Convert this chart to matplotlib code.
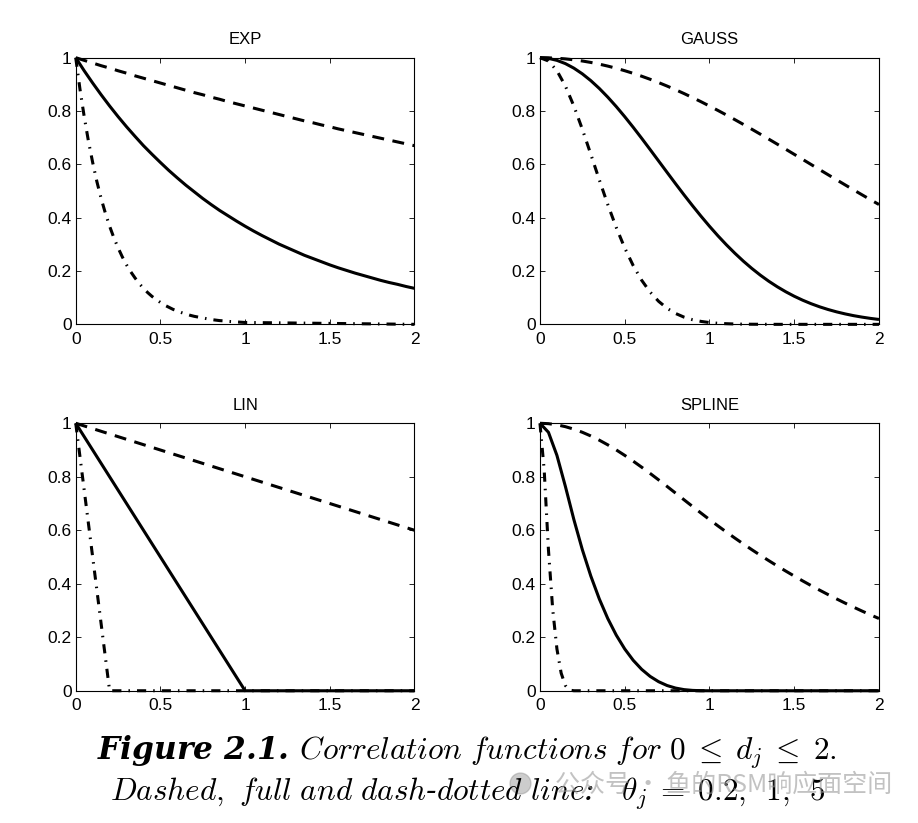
import matplotlib
matplotlib.use("Agg")
import matplotlib.pyplot as plt
from matplotlib.ticker import FixedLocator, FixedFormatter
from matplotlib.lines import Line2D

# ---------------- data ----------------
d = [0.00, 0.05, 0.10, 0.15, 0.20, 0.25, 0.30, 0.35, 0.40, 0.45,
     0.50, 0.55, 0.60, 0.65, 0.70, 0.75, 0.80, 0.85, 0.90, 0.95,
     1.00, 1.05, 1.10, 1.15, 1.20, 1.25, 1.30, 1.35, 1.40, 1.45,
     1.50, 1.55, 1.60, 1.65, 1.70, 1.75, 1.80, 1.85, 1.90, 1.95, 2.00]

d_fine = [0.000, 0.025, 0.050, 0.075, 0.100, 0.125, 0.150, 0.175, 0.200, 0.225,
          0.250, 0.275, 0.300, 0.325, 0.350, 0.375, 0.400, 0.425, 0.450, 0.475,
          0.500, 0.525, 0.550, 0.575, 0.600, 0.625, 0.650, 0.675, 0.700, 0.725,
          0.750, 0.775, 0.800, 0.825, 0.850, 0.875, 0.900, 0.925, 0.950, 0.975,
          1.000, 2.000]

# EXP
exp_02 = [1.000, 0.990, 0.980, 0.970, 0.961, 0.951, 0.942, 0.932, 0.923, 0.914,
          0.905, 0.896, 0.887, 0.878, 0.869, 0.861, 0.852, 0.844, 0.835, 0.827,
          0.819, 0.811, 0.803, 0.795, 0.787, 0.779, 0.771, 0.763, 0.756, 0.748,
          0.741, 0.733, 0.726, 0.719, 0.712, 0.705, 0.698, 0.691, 0.684, 0.677, 0.670]
exp_1 = [1.000, 0.951, 0.905, 0.861, 0.819, 0.779, 0.741, 0.705, 0.670, 0.638,
         0.607, 0.577, 0.549, 0.522, 0.497, 0.472, 0.449, 0.427, 0.407, 0.387,
         0.368, 0.350, 0.333, 0.317, 0.301, 0.287, 0.273, 0.259, 0.247, 0.235,
         0.223, 0.212, 0.202, 0.192, 0.183, 0.174, 0.165, 0.157, 0.150, 0.142, 0.135]
exp_5 = [1.000, 0.882, 0.779, 0.687, 0.607, 0.535, 0.472, 0.417, 0.368, 0.325,
         0.287, 0.253, 0.223, 0.197, 0.174, 0.153, 0.135, 0.119, 0.105, 0.093,
         0.082, 0.072, 0.064, 0.056, 0.050, 0.044, 0.039, 0.034, 0.030, 0.027,
         0.024, 0.021, 0.018, 0.016, 0.014, 0.013, 0.011, 0.010, 0.009, 0.008,
         0.007, 0.000]

# GAUSS
gauss_02 = [1.000, 0.9995, 0.9980, 0.9955, 0.9920, 0.9876, 0.9822, 0.9758, 0.9685, 0.9603,
            0.9512, 0.9413, 0.9305, 0.9190, 0.9066, 0.8936, 0.8799, 0.8655, 0.8504, 0.8349,
            0.8187, 0.8021, 0.7851, 0.7676, 0.7498, 0.7316, 0.7132, 0.6945, 0.6757, 0.6567,
            0.6376, 0.6185, 0.5993, 0.5801, 0.5610, 0.5420, 0.5231, 0.5043, 0.4858, 0.4674, 0.4493]
gauss_1 = [1.000, 0.9975, 0.9900, 0.9778, 0.9608, 0.9394, 0.9139, 0.8847, 0.8521, 0.8167,
           0.7788, 0.7390, 0.6977, 0.6554, 0.6126, 0.5698, 0.5273, 0.4855, 0.4449, 0.4056,
           0.3679, 0.3320, 0.2982, 0.2665, 0.2369, 0.2096, 0.1845, 0.1616, 0.1409, 0.1222,
           0.1054, 0.0905, 0.0773, 0.0657, 0.0556, 0.0468, 0.0392, 0.0326, 0.0271, 0.0223, 0.0183]
gauss_5 = [1.000, 0.9876, 0.9512, 0.8936, 0.8187, 0.7316, 0.6376, 0.5420, 0.4493, 0.3633,
           0.2865, 0.2204, 0.1653, 0.1209, 0.0863, 0.0601, 0.0408, 0.0270, 0.0174, 0.0110,
           0.0067, 0.0040, 0.0024, 0.0013, 0.0007, 0.0004, 0.0002, 0.0001, 0.0, 0.0,
           0.0, 0.0, 0.0, 0.0, 0.0, 0.0, 0.0, 0.0, 0.0, 0.0, 0.0]

# LIN
lin_02 = [1.00, 0.99, 0.98, 0.97, 0.96, 0.95, 0.94, 0.93, 0.92, 0.91,
          0.90, 0.89, 0.88, 0.87, 0.86, 0.85, 0.84, 0.83, 0.82, 0.81,
          0.80, 0.79, 0.78, 0.77, 0.76, 0.75, 0.74, 0.73, 0.72, 0.71,
          0.70, 0.69, 0.68, 0.67, 0.66, 0.65, 0.64, 0.63, 0.62, 0.61, 0.60]
lin_1 = [1.00, 0.95, 0.90, 0.85, 0.80, 0.75, 0.70, 0.65, 0.60, 0.55,
         0.50, 0.45, 0.40, 0.35, 0.30, 0.25, 0.20, 0.15, 0.10, 0.05,
         0.00, 0.00, 0.00, 0.00, 0.00, 0.00, 0.00, 0.00, 0.00, 0.00,
         0.00, 0.00, 0.00, 0.00, 0.00, 0.00, 0.00, 0.00, 0.00, 0.00, 0.00]
lin_5 = [1.00, 0.75, 0.50, 0.25, 0.00, 0.00, 0.00, 0.00, 0.00, 0.00,
         0.00, 0.00, 0.00, 0.00, 0.00, 0.00, 0.00, 0.00, 0.00, 0.00,
         0.00, 0.00, 0.00, 0.00, 0.00, 0.00, 0.00, 0.00, 0.00, 0.00,
         0.00, 0.00, 0.00, 0.00, 0.00, 0.00, 0.00, 0.00, 0.00, 0.00, 0.00]

# SPLINE
spline_02 = [1.000, 0.9985, 0.9942, 0.9873, 0.9779, 0.9663, 0.9525, 0.9368, 0.9194, 0.9004,
             0.8800, 0.8584, 0.8358, 0.8124, 0.7883, 0.7638, 0.7389, 0.7139, 0.6890, 0.6643,
             0.6400, 0.6163, 0.5932, 0.5707, 0.5487, 0.5273, 0.5065, 0.4863, 0.4666, 0.4474,
             0.4288, 0.4106, 0.3930, 0.3760, 0.3594, 0.3433, 0.3277, 0.3126, 0.2979, 0.2837, 0.2700]
spline_1 = [1.000, 0.9663, 0.8800, 0.7638, 0.6400, 0.5273, 0.4288, 0.3433, 0.2700, 0.2080,
            0.1563, 0.1139, 0.0800, 0.0536, 0.0338, 0.0195, 0.0100, 0.0042, 0.0013, 0.0002,
            0.0, 0.0, 0.0, 0.0, 0.0, 0.0, 0.0, 0.0, 0.0, 0.0,
            0.0, 0.0, 0.0, 0.0, 0.0, 0.0, 0.0, 0.0, 0.0, 0.0, 0.0]
spline_5 = [1.000, 0.8242, 0.5273, 0.3052, 0.1563, 0.0659, 0.0195, 0.0024, 0.0, 0.0,
            0.0, 0.0, 0.0, 0.0, 0.0, 0.0, 0.0, 0.0, 0.0, 0.0,
            0.0, 0.0, 0.0, 0.0, 0.0, 0.0, 0.0, 0.0, 0.0, 0.0,
            0.0, 0.0, 0.0, 0.0, 0.0, 0.0, 0.0, 0.0, 0.0, 0.0,
            0.0, 0.0]

titles = ["EXP", "GAUSS", "LIN", "SPLINE"]
x_ticks = [0, 0.5, 1, 1.5, 2]
x_tick_labels = ["0", "0.5", "1", "1.5", "2"]
y_ticks = [0, 0.2, 0.4, 0.6, 0.8, 1]
y_tick_labels = ["0", "0.2", "0.4", "0.6", "0.8", "1"]

caption_1 = (r"Figure 2.1. $\mathit{Correlation\ functions\ for\ }"
             r"0\;\leq\;d_j\;\leq\;2.$")
caption_2 = (r"$\mathit{Dashed,\ full\ and\ dash}$-$\mathit{dotted\ line}$:"
             r"$\quad\theta_j\;=\;0.2,\,\ 1,\,\ 5$")
watermark = "公众号 · 鱼的RSM响应面空间"

# ---------------- drawing ----------------
plt.rcParams["font.family"] = ["Liberation Sans", "DejaVu Sans"]
plt.rcParams["mathtext.fontset"] = "cm"

fig = plt.figure(figsize=(9.18, 8.23), dpi=100)

positions = [(0.0825, 0.6059, 0.3690, 0.3240),
             (0.5882, 0.6059, 0.3693, 0.3240),
             (0.0825, 0.1607, 0.3690, 0.3250),
             (0.5882, 0.1607, 0.3693, 0.3250)]

dashed = (0, (3.9, 2.8))
dashdot = (0, (3.0, 2.3, 0.5, 2.3))

panels = [
    [(d, exp_02, dashed), (d, exp_1, "-"), (d_fine, exp_5, dashdot)],
    [(d, gauss_02, dashed), (d, gauss_1, "-"), (d, gauss_5, dashdot)],
    [(d, lin_02, dashed), (d, lin_1, "-"), (d, lin_5, dashdot)],
    [(d, spline_02, dashed), (d, spline_1, "-"), (d_fine, spline_5, dashdot)],
]

for pos, title, series in zip(positions, titles, panels):
    ax = fig.add_axes(pos)
    for xs, ys, ls in series:
        ax.plot(xs, ys, color="black", lw=2.2, linestyle=ls, clip_on=False,
                solid_capstyle="butt", dash_capstyle="butt", solid_joinstyle="round")
    ax.set_xlim(0, 2)
    ax.set_ylim(0, 1)
    ax.xaxis.set_major_locator(FixedLocator(x_ticks))
    ax.xaxis.set_major_formatter(FixedFormatter(x_tick_labels))
    ax.yaxis.set_major_locator(FixedLocator(y_ticks))
    ax.yaxis.set_major_formatter(FixedFormatter(y_tick_labels))
    ax.tick_params(direction="in", top=True, right=True, length=3.5, width=0.6,
                   labelsize=12.5, colors="black")
    ax.tick_params(axis="x", pad=5.5)
    ax.tick_params(axis="y", pad=3)
    for sp in ax.spines.values():
        sp.set_linewidth(0.8)
    ax.set_title(title, fontsize=12, pad=9.5)

fig.text(0.5087, 0.0765, caption_1, ha="center", va="baseline", fontsize=22.5,
         family="DejaVu Serif", fontweight="bold", fontstyle="italic")
fig.text(0.5093, 0.0267, caption_2, ha="center", va="baseline", fontsize=22.5,
         family="DejaVu Serif", fontstyle="italic")

fig.add_artist(Line2D([0.566], [0.048], marker="o", ms=15, color="#9a9a9a",
                      alpha=0.5, transform=fig.transFigure))
fig.text(0.6046, 0.0462, watermark, ha="left", va="center", fontsize=18,
         family=["Noto Sans CJK SC", "DejaVu Sans"], color="#9a9a9a", alpha=0.6)

fig.savefig("out.png", dpi=100)
